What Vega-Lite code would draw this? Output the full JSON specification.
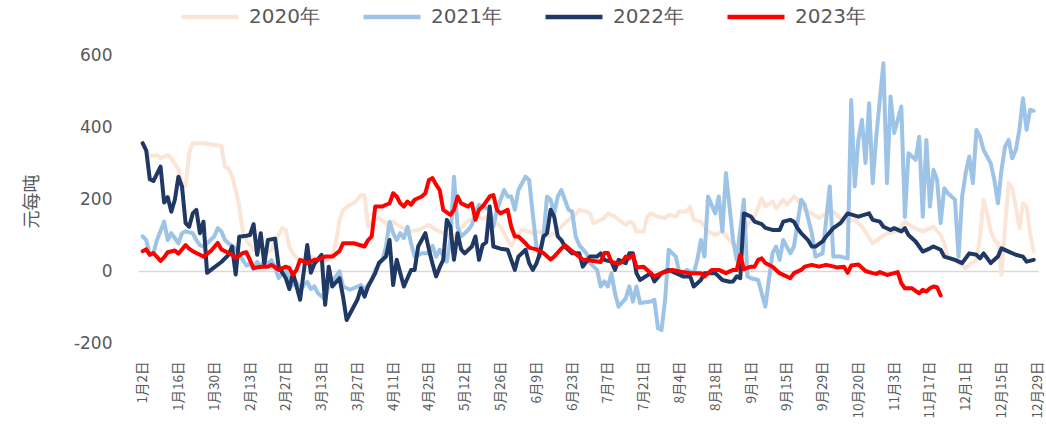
{
"$schema": "https://vega.github.io/schema/vega-lite/v6.json",
"width": 900, "height": 288,
"autosize": {"type": "none"},
"padding": {"left": 138, "top": 55, "right": 8, "bottom": 84},
"config": {"view": {"stroke": null}, "font": "DejaVu Sans"},
"datasets": {
"y2020": [{"t":0,"v":350},{"t":2,"v":318},{"t":4,"v":322},{"t":5,"v":313},{"t":7,"v":322},{"t":8,"v":313},{"t":10,"v":281},{"t":11,"v":244},{"t":12,"v":235},{"t":13,"v":327},{"t":14,"v":355},{"t":17,"v":355},{"t":22,"v":347},{"t":23,"v":290},{"t":24,"v":285},{"t":25,"v":262},{"t":26,"v":225},{"t":27,"v":180},{"t":28,"v":110},{"t":29,"v":86},{"t":31,"v":59},{"t":34,"v":49},{"t":36,"v":59},{"t":37,"v":82},{"t":39,"v":119},{"t":40,"v":114},{"t":41,"v":68},{"t":42,"v":49},{"t":44,"v":26},{"t":47,"v":40},{"t":49,"v":31},{"t":51,"v":26},{"t":53,"v":40},{"t":54,"v":80},{"t":55,"v":140},{"t":56,"v":170},{"t":58,"v":184},{"t":59,"v":188},{"t":61,"v":211},{"t":62,"v":210},{"t":63,"v":123},{"t":64,"v":137},{"t":66,"v":147},{"t":68,"v":133},{"t":69,"v":114},{"t":70,"v":137},{"t":72,"v":123},{"t":75,"v":110},{"t":77,"v":114},{"t":79,"v":123},{"t":80,"v":128},{"t":82,"v":114},{"t":83,"v":110},{"t":85,"v":100},{"t":87,"v":95},{"t":89,"v":120},{"t":91,"v":140},{"t":93,"v":150},{"t":95,"v":145},{"t":97,"v":155},{"t":98,"v":142},{"t":100,"v":123},{"t":102,"v":86},{"t":103,"v":68},{"t":104,"v":90},{"t":106,"v":114},{"t":108,"v":110},{"t":109,"v":105},{"t":111,"v":110},{"t":113,"v":96},{"t":115,"v":105},{"t":117,"v":123},{"t":119,"v":142},{"t":121,"v":156},{"t":122,"v":170},{"t":124,"v":165},{"t":125,"v":160},{"t":126,"v":133},{"t":127,"v":137},{"t":129,"v":147},{"t":130,"v":160},{"t":132,"v":151},{"t":133,"v":142},{"t":135,"v":128},{"t":136,"v":137},{"t":137,"v":133},{"t":138,"v":110},{"t":140,"v":110},{"t":141,"v":151},{"t":142,"v":160},{"t":144,"v":151},{"t":146,"v":147},{"t":147,"v":156},{"t":149,"v":151},{"t":150,"v":165},{"t":152,"v":165},{"t":153,"v":179},{"t":154,"v":142},{"t":156,"v":137},{"t":158,"v":110},{"t":160,"v":100},{"t":162,"v":110},{"t":164,"v":86},{"t":166,"v":63},{"t":167,"v":75},{"t":169,"v":128},{"t":171,"v":151},{"t":173,"v":202},{"t":174,"v":179},{"t":176,"v":193},{"t":177,"v":174},{"t":179,"v":198},{"t":180,"v":184},{"t":182,"v":207},{"t":183,"v":198},{"t":185,"v":170},{"t":187,"v":160},{"t":189,"v":147},{"t":191,"v":160},{"t":193,"v":165},{"t":196,"v":137},{"t":199,"v":142},{"t":201,"v":123},{"t":204,"v":77},{"t":206,"v":91},{"t":208,"v":105},{"t":211,"v":110},{"t":213,"v":137},{"t":215,"v":123},{"t":218,"v":110},{"t":221,"v":123},{"t":223,"v":100},{"t":224,"v":77},{"t":225,"v":40},{"t":227,"v":31},{"t":230,"v":8},{"t":231,"v":17},{"t":233,"v":31},{"t":234,"v":96},{"t":235,"v":198},{"t":236,"v":160},{"t":237,"v":110},{"t":238,"v":86},{"t":239,"v":77},{"t":240,"v":-11},{"t":241,"v":123},{"t":242,"v":244},{"t":243,"v":230},{"t":244,"v":179},{"t":245,"v":119},{"t":246,"v":188},{"t":247,"v":179},{"t":248,"v":105},{"t":249,"v":54}],
"y2021": [{"t":0,"v":96},{"t":1,"v":86},{"t":2,"v":45},{"t":3,"v":49},{"t":4,"v":86},{"t":6,"v":137},{"t":7,"v":86},{"t":8,"v":105},{"t":9,"v":91},{"t":10,"v":77},{"t":11,"v":105},{"t":12,"v":110},{"t":14,"v":105},{"t":15,"v":86},{"t":16,"v":72},{"t":17,"v":68},{"t":18,"v":77},{"t":20,"v":96},{"t":21,"v":119},{"t":22,"v":110},{"t":23,"v":86},{"t":24,"v":77},{"t":26,"v":63},{"t":27,"v":49},{"t":28,"v":30},{"t":29,"v":15},{"t":30,"v":20},{"t":31,"v":5},{"t":32,"v":25},{"t":33,"v":10},{"t":34,"v":30},{"t":35,"v":20},{"t":36,"v":30},{"t":37,"v":10},{"t":38,"v":-20},{"t":39,"v":-6},{"t":40,"v":5},{"t":41,"v":-25},{"t":42,"v":-40},{"t":43,"v":-30},{"t":44,"v":-52},{"t":45,"v":-40},{"t":46,"v":-30},{"t":47,"v":-50},{"t":48,"v":-43},{"t":49,"v":-62},{"t":50,"v":-70},{"t":51,"v":-80},{"t":52,"v":-40},{"t":54,"v":-15},{"t":55,"v":-1},{"t":56,"v":-43},{"t":58,"v":-52},{"t":61,"v":-39},{"t":62,"v":-52},{"t":64,"v":-25},{"t":65,"v":3},{"t":67,"v":31},{"t":68,"v":68},{"t":69,"v":137},{"t":70,"v":105},{"t":71,"v":86},{"t":72,"v":105},{"t":73,"v":91},{"t":74,"v":123},{"t":75,"v":77},{"t":76,"v":40},{"t":78,"v":49},{"t":80,"v":49},{"t":81,"v":70},{"t":82,"v":40},{"t":83,"v":59},{"t":85,"v":26},{"t":86,"v":86},{"t":87,"v":262},{"t":88,"v":123},{"t":89,"v":96},{"t":91,"v":114},{"t":92,"v":128},{"t":94,"v":184},{"t":95,"v":179},{"t":97,"v":170},{"t":98,"v":123},{"t":99,"v":170},{"t":101,"v":225},{"t":102,"v":207},{"t":103,"v":207},{"t":104,"v":170},{"t":105,"v":225},{"t":107,"v":262},{"t":108,"v":253},{"t":109,"v":160},{"t":110,"v":70},{"t":111,"v":40},{"t":112,"v":96},{"t":113,"v":207},{"t":114,"v":198},{"t":115,"v":160},{"t":116,"v":207},{"t":117,"v":225},{"t":119,"v":170},{"t":120,"v":165},{"t":121,"v":96},{"t":122,"v":72},{"t":124,"v":49},{"t":125,"v":22},{"t":127,"v":3},{"t":128,"v":-43},{"t":129,"v":-29},{"t":130,"v":-43},{"t":131,"v":-6},{"t":132,"v":-62},{"t":133,"v":-99},{"t":135,"v":-76},{"t":136,"v":-43},{"t":137,"v":-85},{"t":138,"v":-43},{"t":139,"v":-89},{"t":142,"v":-85},{"t":143,"v":-80},{"t":144,"v":-159},{"t":145,"v":-164},{"t":146,"v":-80},{"t":147,"v":59},{"t":149,"v":40},{"t":150,"v":-6},{"t":151,"v":-6},{"t":152,"v":3},{"t":154,"v":-6},{"t":155,"v":31},{"t":156,"v":86},{"t":157,"v":40},{"t":158,"v":207},{"t":160,"v":160},{"t":161,"v":207},{"t":162,"v":110},{"t":163,"v":272},{"t":165,"v":86},{"t":166,"v":31},{"t":168,"v":198},{"t":169,"v":-15},{"t":170,"v":-20},{"t":172,"v":-25},{"t":174,"v":-99},{"t":176,"v":49},{"t":177,"v":68},{"t":178,"v":31},{"t":179,"v":86},{"t":181,"v":49},{"t":182,"v":68},{"t":184,"v":198},{"t":185,"v":184},{"t":187,"v":105},{"t":188,"v":40},{"t":190,"v":49},{"t":192,"v":235},{"t":193,"v":40},{"t":195,"v":40},{"t":197,"v":35},{"t":198,"v":475},{"t":199,"v":235},{"t":200,"v":364},{"t":201,"v":420},{"t":202,"v":300},{"t":203,"v":466},{"t":204,"v":244},{"t":205,"v":373},{"t":207,"v":577},{"t":208,"v":244},{"t":209,"v":485},{"t":210,"v":383},{"t":211,"v":420},{"t":212,"v":457},{"t":213,"v":150},{"t":214,"v":327},{"t":216,"v":309},{"t":217,"v":373},{"t":218,"v":151},{"t":219,"v":364},{"t":220,"v":179},{"t":221,"v":281},{"t":222,"v":253},{"t":223,"v":133},{"t":224,"v":230},{"t":225,"v":216},{"t":227,"v":198},{"t":228,"v":40},{"t":229,"v":207},{"t":230,"v":272},{"t":231,"v":318},{"t":232,"v":244},{"t":233,"v":392},{"t":234,"v":373},{"t":235,"v":336},{"t":237,"v":299},{"t":238,"v":253},{"t":239,"v":188},{"t":240,"v":281},{"t":241,"v":346},{"t":242,"v":364},{"t":243,"v":313},{"t":244,"v":336},{"t":245,"v":392},{"t":246,"v":480},{"t":247,"v":392},{"t":248,"v":448},{"t":249,"v":445}],
"y2022": [{"t":0,"v":355},{"t":1,"v":335},{"t":2,"v":255},{"t":3,"v":250},{"t":4,"v":270},{"t":5,"v":290},{"t":6,"v":190},{"t":7,"v":205},{"t":8,"v":165},{"t":9,"v":198},{"t":10,"v":262},{"t":11,"v":234},{"t":12,"v":133},{"t":13,"v":123},{"t":14,"v":160},{"t":15,"v":170},{"t":16,"v":105},{"t":17,"v":137},{"t":18,"v":-5},{"t":20,"v":10},{"t":22,"v":25},{"t":24,"v":45},{"t":25,"v":68},{"t":26,"v":-10},{"t":27,"v":95},{"t":29,"v":98},{"t":30,"v":100},{"t":31,"v":130},{"t":32,"v":45},{"t":33,"v":105},{"t":34,"v":20},{"t":35,"v":86},{"t":37,"v":90},{"t":38,"v":12},{"t":40,"v":-20},{"t":41,"v":-50},{"t":42,"v":-5},{"t":44,"v":-80},{"t":46,"v":72},{"t":47,"v":-5},{"t":48,"v":20},{"t":50,"v":45},{"t":51,"v":-94},{"t":52,"v":12},{"t":53,"v":-43},{"t":55,"v":-20},{"t":56,"v":-71},{"t":57,"v":-136},{"t":60,"v":-80},{"t":61,"v":-48},{"t":62,"v":-71},{"t":63,"v":-43},{"t":65,"v":-6},{"t":66,"v":22},{"t":68,"v":40},{"t":69,"v":86},{"t":70,"v":-39},{"t":71,"v":31},{"t":72,"v":-6},{"t":73,"v":-43},{"t":75,"v":3},{"t":76,"v":3},{"t":77,"v":68},{"t":79,"v":105},{"t":80,"v":60},{"t":81,"v":20},{"t":82,"v":-15},{"t":83,"v":10},{"t":84,"v":31},{"t":85,"v":142},{"t":86,"v":123},{"t":87,"v":31},{"t":88,"v":105},{"t":89,"v":60},{"t":90,"v":49},{"t":92,"v":68},{"t":93,"v":96},{"t":94,"v":31},{"t":95,"v":72},{"t":96,"v":80},{"t":97,"v":179},{"t":98,"v":68},{"t":100,"v":62},{"t":102,"v":59},{"t":104,"v":3},{"t":105,"v":40},{"t":107,"v":59},{"t":108,"v":22},{"t":109,"v":3},{"t":110,"v":20},{"t":111,"v":49},{"t":112,"v":96},{"t":113,"v":105},{"t":114,"v":170},{"t":115,"v":151},{"t":116,"v":96},{"t":117,"v":86},{"t":118,"v":68},{"t":120,"v":49},{"t":122,"v":49},{"t":123,"v":12},{"t":125,"v":40},{"t":127,"v":40},{"t":128,"v":49},{"t":129,"v":31},{"t":131,"v":26},{"t":132,"v":3},{"t":133,"v":31},{"t":135,"v":22},{"t":136,"v":49},{"t":137,"v":49},{"t":138,"v":-6},{"t":139,"v":-25},{"t":142,"v":-6},{"t":143,"v":-29},{"t":145,"v":-6},{"t":147,"v":3},{"t":149,"v":-6},{"t":151,"v":-15},{"t":153,"v":-15},{"t":154,"v":-43},{"t":156,"v":-25},{"t":157,"v":-6},{"t":158,"v":-6},{"t":160,"v":-6},{"t":162,"v":-25},{"t":164,"v":-30},{"t":165,"v":-29},{"t":166,"v":-15},{"t":167,"v":-20},{"t":168,"v":160},{"t":170,"v":151},{"t":171,"v":137},{"t":173,"v":130},{"t":174,"v":120},{"t":176,"v":114},{"t":178,"v":114},{"t":179,"v":137},{"t":181,"v":142},{"t":182,"v":137},{"t":183,"v":119},{"t":184,"v":105},{"t":186,"v":85},{"t":187,"v":68},{"t":188,"v":68},{"t":190,"v":82},{"t":191,"v":96},{"t":193,"v":119},{"t":195,"v":133},{"t":197,"v":160},{"t":200,"v":151},{"t":203,"v":160},{"t":204,"v":142},{"t":206,"v":137},{"t":207,"v":123},{"t":209,"v":114},{"t":210,"v":119},{"t":212,"v":110},{"t":213,"v":119},{"t":214,"v":100},{"t":216,"v":82},{"t":217,"v":68},{"t":218,"v":54},{"t":220,"v":63},{"t":221,"v":68},{"t":223,"v":59},{"t":224,"v":40},{"t":227,"v":31},{"t":229,"v":22},{"t":231,"v":49},{"t":233,"v":45},{"t":234,"v":35},{"t":235,"v":49},{"t":237,"v":22},{"t":239,"v":40},{"t":240,"v":63},{"t":242,"v":54},{"t":244,"v":45},{"t":246,"v":40},{"t":247,"v":26},{"t":249,"v":31}],
"y2023": [{"t":0,"v":55},{"t":1,"v":60},{"t":2,"v":45},{"t":3,"v":50},{"t":5,"v":28},{"t":6,"v":38},{"t":7,"v":52},{"t":9,"v":57},{"t":10,"v":48},{"t":12,"v":72},{"t":13,"v":62},{"t":14,"v":55},{"t":16,"v":45},{"t":17,"v":40},{"t":19,"v":55},{"t":21,"v":78},{"t":22,"v":60},{"t":23,"v":55},{"t":25,"v":45},{"t":26,"v":35},{"t":28,"v":50},{"t":29,"v":52},{"t":31,"v":8},{"t":33,"v":12},{"t":35,"v":12},{"t":36,"v":17},{"t":38,"v":3},{"t":40,"v":12},{"t":41,"v":8},{"t":42,"v":-11},{"t":43,"v":3},{"t":44,"v":31},{"t":46,"v":22},{"t":48,"v":31},{"t":49,"v":31},{"t":51,"v":40},{"t":53,"v":40},{"t":55,"v":55},{"t":56,"v":77},{"t":59,"v":77},{"t":62,"v":68},{"t":63,"v":86},{"t":64,"v":96},{"t":65,"v":179},{"t":67,"v":179},{"t":68,"v":184},{"t":69,"v":188},{"t":70,"v":216},{"t":71,"v":207},{"t":72,"v":188},{"t":73,"v":179},{"t":74,"v":193},{"t":75,"v":184},{"t":76,"v":198},{"t":78,"v":207},{"t":79,"v":216},{"t":80,"v":253},{"t":81,"v":258},{"t":82,"v":240},{"t":83,"v":225},{"t":84,"v":170},{"t":86,"v":156},{"t":87,"v":170},{"t":88,"v":207},{"t":89,"v":188},{"t":91,"v":179},{"t":92,"v":188},{"t":93,"v":142},{"t":94,"v":170},{"t":95,"v":179},{"t":97,"v":207},{"t":98,"v":211},{"t":99,"v":170},{"t":100,"v":160},{"t":102,"v":170},{"t":103,"v":123},{"t":104,"v":96},{"t":105,"v":96},{"t":107,"v":77},{"t":108,"v":65},{"t":110,"v":60},{"t":111,"v":55},{"t":112,"v":50},{"t":114,"v":32},{"t":115,"v":40},{"t":117,"v":62},{"t":118,"v":72},{"t":120,"v":55},{"t":123,"v":32},{"t":126,"v":28},{"t":128,"v":25},{"t":129,"v":50},{"t":130,"v":50},{"t":131,"v":25},{"t":133,"v":20},{"t":134,"v":25},{"t":135,"v":40},{"t":136,"v":35},{"t":137,"v":45},{"t":138,"v":10},{"t":140,"v":12},{"t":142,"v":-6},{"t":143,"v":-15},{"t":145,"v":-6},{"t":148,"v":3},{"t":150,"v":-1},{"t":153,"v":-6},{"t":156,"v":-6},{"t":157,"v":-15},{"t":159,"v":3},{"t":161,"v":3},{"t":163,"v":-6},{"t":165,"v":3},{"t":166,"v":3},{"t":167,"v":45},{"t":168,"v":5},{"t":170,"v":12},{"t":171,"v":12},{"t":172,"v":31},{"t":173,"v":35},{"t":174,"v":22},{"t":176,"v":12},{"t":177,"v":3},{"t":178,"v":-6},{"t":181,"v":-20},{"t":182,"v":-6},{"t":184,"v":3},{"t":185,"v":12},{"t":187,"v":17},{"t":189,"v":12},{"t":191,"v":17},{"t":192,"v":15},{"t":194,"v":10},{"t":196,"v":12},{"t":197,"v":-5},{"t":198,"v":15},{"t":200,"v":18},{"t":202,"v":0},{"t":204,"v":-6},{"t":205,"v":-8},{"t":206,"v":-3},{"t":208,"v":-11},{"t":210,"v":-6},{"t":211,"v":-3},{"t":212,"v":-34},{"t":213,"v":-48},{"t":215,"v":-48},{"t":217,"v":-62},{"t":218,"v":-52},{"t":219,"v":-57},{"t":220,"v":-48},{"t":221,"v":-43},{"t":222,"v":-45},{"t":223,"v":-68}]
},
"encoding": {
"x": {"field": "t", "type": "quantitative", "scale": {"domain": [-1.3, 250.2], "nice": false, "zero": false},
 "axis": {"values": [0,10,20,30,40,50,60,70,80,90,100,110,120,130,140,150,160,170,180,190,200,210,220,230,240,250],
  "labelExpr": "['1月2日','1月16日','1月30日','2月13日','2月27日','3月13日','3月27日','4月11日','4月25日','5月12日','5月26日','6月9日','6月23日','7月7日','7月21日','8月4日','8月18日','9月1日','9月15日','9月29日','10月20日','11月3日','11月17日','12月1日','12月15日','12月29日'][round(datum.value/10)]",
  "title": null, "labelAngle": -90, "labelFont": "Noto Sans CJK SC", "labelFontSize": 13.5, "labelColor": "#595959", "labelPadding": 18,
  "domain": false, "ticks": false, "grid": false, "labelOverlap": false, "labelFlush": false}},
"y": {"field": "v", "type": "quantitative", "scale": {"domain": [-200, 600], "nice": false, "zero": false},
 "axis": {"values": [-200, 0, 200, 400, 600], "labelExpr": "'' + datum.value", "title": "元每吨", "titleFont": "Noto Sans CJK SC", "titleFontSize": 18, "titleFontWeight": "normal", "titleColor": "#595959",
  "titleX": -106, "titleY": 146, "titleAngle": -90, "titleAlign": "center", "titleBaseline": "middle",
  "labelFont": "DejaVu Sans", "labelFontSize": 17, "labelColor": "#595959", "labelPadding": 26,
  "domain": false, "ticks": false, "grid": true, "gridWidth": 1.5,
  "gridColor": {"condition": {"test": "datum.value === 0", "value": "#D9D9D9"}, "value": "rgba(0,0,0,0)"}}}
},
"layer": [
{"data": {"name": "y2020"}, "mark": {"type": "line", "strokeWidth": 4, "strokeJoin": "round", "strokeCap": "round"},
 "encoding": {"color": {"datum": "2020年", "type": "nominal", "scale": {"domain": ["2020年","2021年","2022年","2023年"], "range": ["#FBE5D6","#9DC3E6","#1F3864","#FF0000"]},
  "legend": {"title": null, "orient": "none", "legendX": 41, "legendY": -69, "direction": "horizontal", "symbolType": "stroke", "symbolStrokeWidth": 4.5, "symbolSize": 3249, "labelFontSize": 20, "labelColor": "#595959", "labelFont": "DejaVu Sans", "labelOffset": 8, "columnPadding": 34, "padding": 0}}}},
{"data": {"name": "y2021"}, "mark": {"type": "line", "strokeWidth": 4, "strokeJoin": "round", "strokeCap": "round"},
 "encoding": {"color": {"datum": "2021年", "type": "nominal"}}},
{"data": {"name": "y2022"}, "mark": {"type": "line", "strokeWidth": 4, "strokeJoin": "round", "strokeCap": "round"},
 "encoding": {"color": {"datum": "2022年", "type": "nominal"}}},
{"data": {"name": "y2023"}, "mark": {"type": "line", "strokeWidth": 4, "strokeJoin": "round", "strokeCap": "round"},
 "encoding": {"color": {"datum": "2023年", "type": "nominal"}}}
]
}
